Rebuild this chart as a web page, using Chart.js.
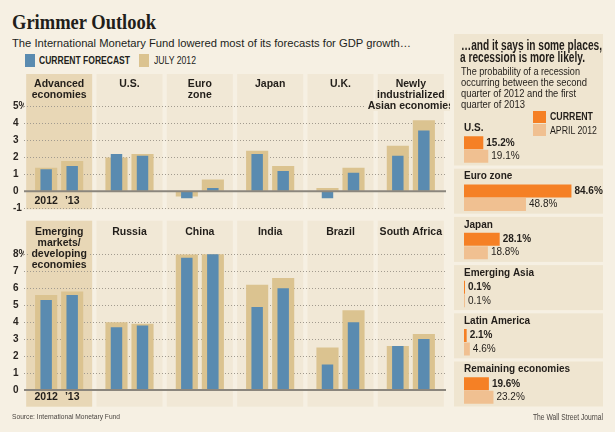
<!DOCTYPE html>
<html>
<head>
<meta charset="utf-8">
<title>Grimmer Outlook</title>
<script src="https://cdn.jsdelivr.net/npm/chart.js@4.4.1/dist/chart.umd.min.js"></script>
<style>
  html, body { margin: 0; padding: 0; }
  body { width: 615px; height: 432px; background: #f6f0e3; position: relative; overflow: hidden;
         font-family: "Liberation Sans", Arial, sans-serif; color: #221e1a; }
  canvas { position: absolute; }
  .txt { position: absolute; white-space: nowrap; transform-origin: 0 50%; }
  .sw { position: absolute; }
</style>
</head>
<body>
<canvas id="topChart" width="450" height="150" style="left:0;top:70px"></canvas>
<canvas id="bottomChart" width="450" height="200" style="left:0;top:215px"></canvas>
<canvas id="recessionChart" width="165" height="395" style="left:450px;top:30px"></canvas>

<div class="txt" data-w="144" style="left:12px;top:11px;font:bold 22px/22px 'Liberation Serif',serif;">Grimmer Outlook</div>
<div class="txt" data-w="399" style="left:12px;top:37.5px;font:11px/11px 'Liberation Sans',sans-serif;">The International Monetary Fund lowered most of its forecasts for GDP growth…</div>
<div class="sw" style="left:25px;top:54px;width:10px;height:13px;background:#5a8bb0"></div>
<div class="txt" data-w="91" style="left:39px;top:56px;font:bold 10px/10px 'Liberation Sans',sans-serif;">CURRENT FORECAST</div>
<div class="sw" style="left:139px;top:54px;width:10px;height:13px;background:#dbc390"></div>
<div class="txt" data-w="42" style="left:154px;top:56px;font:10px/10px 'Liberation Sans',sans-serif;">JULY 2012</div>

<div class="txt" data-w="141" style="left:461px;top:38px;font:bold 14.5px/14.5px 'Liberation Sans',sans-serif;">…and it says in some places,</div>
<div class="txt" data-w="125" style="left:460px;top:50px;font:bold 14.5px/14.5px 'Liberation Sans',sans-serif;">a recession is more likely.</div>
<div class="txt" data-w="119" style="left:461px;top:67px;font:10px/10px 'Liberation Sans',sans-serif;">The probability of a recession</div>
<div class="txt" data-w="126" style="left:461px;top:78px;font:10px/10px 'Liberation Sans',sans-serif;">occurring between the second</div>
<div class="txt" data-w="115" style="left:461px;top:89px;font:10px/10px 'Liberation Sans',sans-serif;">quarter of 2012 and the first</div>
<div class="txt" data-w="64" style="left:461px;top:100px;font:10px/10px 'Liberation Sans',sans-serif;">quarter of 2013</div>
<div class="sw" style="left:533px;top:111px;width:13px;height:12px;background:#f58025"></div>
<div class="txt" data-w="43" style="left:550px;top:112px;font:bold 10px/10px 'Liberation Sans',sans-serif;">CURRENT</div>
<div class="sw" style="left:533px;top:124px;width:13px;height:12px;background:#f0c091"></div>
<div class="txt" data-w="47" style="left:550px;top:126px;font:10px/10px 'Liberation Sans',sans-serif;">APRIL 2012</div>

<div class="txt" data-w="108" style="left:12px;top:413px;font:8px/8px 'Liberation Sans',sans-serif;color:#4a4540;">Source: International Monetary Fund</div>
<div class="txt" data-w="70" style="left:533px;top:412.5px;font:8.5px/8.5px 'Liberation Sans',sans-serif;color:#4a4540;">The Wall Street Journal</div>

<script>
// GDP growth forecasts, % (IMF), current vs July 2012
const topHeaders = [['Advanced', 'economies'], ['U.S.'], ['Euro', 'zone'], ['Japan'], ['U.K.'],
                    ['Newly', 'industrialized', 'Asian economies']];
const topCurrent2012 = [1.3, 2.2, -0.4, 2.2, -0.4, 2.1];
const topCurrent2013 = [1.5, 2.1, 0.2, 1.2, 1.1, 3.6];
const topJuly2012 = [1.4, 2.0, -0.3, 2.4, 0.2, 2.7];
const topJuly2013 = [1.8, 2.2, 0.7, 1.5, 1.4, 4.2];

const bottomHeaders = [['Emerging', 'markets/', 'developing', 'economies'], ['Russia'], ['China'], ['India'],
                       ['Brazil'], ['South Africa']];
const bottomCurrent2012 = [5.3, 3.7, 7.8, 4.9, 1.5, 2.6];
const bottomCurrent2013 = [5.6, 3.8, 8.2, 6.0, 4.0, 3.0];
const bottomJuly2012 = [5.6, 4.0, 8.0, 6.2, 2.5, 2.6];
const bottomJuly2013 = [5.8, 3.9, 8.5, 6.6, 4.7, 3.3];

const years = ['2012', '\u201913'];

// recession probability, %
const regions = ['U.S.', 'Euro zone', 'Japan', 'Emerging Asia', 'Latin America', 'Remaining economies'];
const probCurrent = [15.2, 84.6, 28.1, 0.1, 2.1, 19.6];
const probApril = [19.1, 48.8, 18.8, 0.1, 4.6, 23.2];

const BLUE = '#5a8bb0';
const TAN = '#dbc390';
const ORANGE = '#f58025';
const ORANGE_LIGHT = '#f0c091';
const PANEL_DARK = '#e8d7b6';
const PANEL_LIGHT = '#f1e8d6';
const PANEL_RIGHT = '#efe5d0';
const INK = '#221e1a';
const NARROW = '"Liberation Sans Narrow", "Liberation Sans", Arial, sans-serif';

Chart.defaults.animation = false;
Chart.defaults.plugins.legend.display = false;
Chart.defaults.plugins.tooltip.enabled = false;

// stretch/squeeze html text to the widths measured on the original
document.querySelectorAll('.txt[data-w]').forEach(el => {
    const w = el.getBoundingClientRect().width;
    el.style.transform = `scaleX(${el.dataset.w / w})`;
});

function panelsPlugin(headers, opts) {
    return {
        id: 'panels',
        beforeDraw(chart) {
            const { ctx, scales: { x, y } } = chart;
            const bottom = y.getPixelForValue(opts.minValue) + opts.bottomExtra;
            ctx.save();
            headers.forEach((lines, i) => {
                const cx = x.getPixelForValue(i);
                ctx.fillStyle = i === 0 ? PANEL_DARK : PANEL_LIGHT;
                ctx.fillRect(cx - 33, opts.top, 66, bottom - opts.top);
            });
            ctx.restore();
        },
        afterDatasetsDraw(chart) {
            const { ctx, chartArea, scales: { x, y } } = chart;
            ctx.save();

            // zero line
            const y0 = y.getPixelForValue(0);
            ctx.strokeStyle = '#8b867d';
            ctx.lineWidth = 2;
            ctx.beginPath();
            ctx.moveTo(chartArea.left, y0);
            ctx.lineTo(chartArea.right, y0);
            ctx.stroke();

            // panel headers
            ctx.font = 'bold 10.5px ' + NARROW;
            ctx.textAlign = 'center';
            ctx.textBaseline = 'middle';
            headers.forEach((lines, i) => {
                const cx = x.getPixelForValue(i);
                lines.forEach((line, k) => {
                    const ty = opts.headerY + k * 11;
                    const w = ctx.measureText(line).width;
                    ctx.fillStyle = i === 0 ? PANEL_DARK : PANEL_LIGHT;
                    ctx.fillRect(cx - w / 2 - 2, ty - 5, w + 4, 10);
                    ctx.fillStyle = INK;
                    ctx.fillText(line, cx, ty);
                });
            });

            // year labels under the first panel
            years.forEach((label, k) => {
                const bar = chart.getDatasetMeta(k).data[0];
                ctx.fillText(label, bar.x, opts.yearY);
            });
            ctx.restore();
        }
    };
}

function makeGdpChart(id, headers, july2012, july2013, current2012, current2013, yMin, yMax, layout, opts) {
    const ctx = document.getElementById(id).getContext('2d');
    return new Chart(ctx, {
        type: 'bar',
        data: {
            labels: headers.map(h => h.join(' ')),
            datasets: [
                { label: 'July 2012', data: july2012, stack: 'y12', backgroundColor: TAN,
                  barPercentage: 0.85, categoryPercentage: 0.74, order: 2 },
                { label: 'July 2012', data: july2013, stack: 'y13', backgroundColor: TAN,
                  barPercentage: 0.85, categoryPercentage: 0.74, order: 2 },
                { label: 'Current forecast', data: current2012, stack: 'y12', backgroundColor: BLUE,
                  barPercentage: 0.44, categoryPercentage: 0.74, order: 1 },
                { label: 'Current forecast', data: current2013, stack: 'y13', backgroundColor: BLUE,
                  barPercentage: 0.44, categoryPercentage: 0.74, order: 1 }
            ]
        },
        options: {
            responsive: false,
            layout: { padding: layout },
            scales: {
                x: { display: false, stacked: true },
                y: {
                    stacked: false,
                    min: yMin,
                    max: yMax,
                    afterFit: scale => { scale.width = 11; },
                    ticks: {
                        stepSize: 1,
                        padding: 0,
                        crossAlign: 'far',
                        color: '#2b2622',
                        font: { family: '"Liberation Sans", Arial, sans-serif', size: 10, weight: 'bold' },
                        callback: v => v === yMax ? v + '%' : v
                    },
                    grid: {
                        drawTicks: false,
                        color: c => c.tick.value === 0 ? 'rgba(0,0,0,0)' : '#a29b8f'
                    },
                    border: { display: false, dash: [1, 2] }
                }
            }
        },
        plugins: [panelsPlugin(headers, opts)]
    });
}

makeGdpChart('topChart', topHeaders, topJuly2012, topJuly2013, topCurrent2012, topCurrent2013, -1, 5,
    { left: 13, right: 4, top: 36.7, bottom: 11.7 },
    { top: 4, minValue: -1, bottomExtra: 1, headerY: 14, yearY: 130.7 });

makeGdpChart('bottomChart', bottomHeaders, bottomJuly2012, bottomJuly2013, bottomCurrent2012, bottomCurrent2013, 0, 8,
    { left: 13, right: 4, top: 39.3, bottom: 25 },
    { top: 5.7, minValue: 0, bottomExtra: 16.7, headerY: 16.7, yearY: 181.7 });

const recessionPlugin = {
    id: 'recession',
    beforeDraw(chart) {
        const { ctx, scales: { y } } = chart;
        ctx.save();
        ctx.font = 'bold 10px ' + NARROW;
        ctx.textBaseline = 'middle';
        regions.forEach((name, i) => {
            const c = y.getPixelForValue(i);
            const top = i === 0 ? 4 : c - 29;
            ctx.fillStyle = PANEL_RIGHT;
            ctx.fillRect(4, top, 149, c + 16 - top);
            ctx.fillStyle = INK;
            ctx.fillText(name, 14, c - 21);
        });
        ctx.restore();
    },
    afterDatasetsDraw(chart) {
        const { ctx } = chart;
        ctx.save();
        ctx.textBaseline = 'middle';
        ctx.fillStyle = INK;
        chart.data.datasets.forEach((ds, di) => {
            ctx.font = (di === 0 ? 'bold ' : '') + '10px ' + NARROW;
            chart.getDatasetMeta(di).data.forEach((bar, i) => {
                ctx.fillText(ds.data[i].toFixed(1) + '%', bar.x + 3, bar.y);
            });
        });
        ctx.restore();
    }
};

new Chart(document.getElementById('recessionChart').getContext('2d'), {
    type: 'bar',
    data: {
        labels: regions,
        datasets: [
            { label: 'Current', data: probCurrent, backgroundColor: ORANGE,
              barPercentage: 0.96, categoryPercentage: 0.56, minBarLength: 1 },
            { label: 'April 2012', data: probApril, backgroundColor: ORANGE_LIGHT,
              barPercentage: 0.96, categoryPercentage: 0.56, minBarLength: 1 }
        ]
    },
    options: {
        indexAxis: 'y',
        responsive: false,
        layout: { padding: { left: 14, right: 24, top: 95.4, bottom: 10.4 } },
        scales: {
            x: { display: false, min: 0, max: 100 },
            y: { display: false }
        }
    },
    plugins: [recessionPlugin]
});
</script>
</body>
</html>
